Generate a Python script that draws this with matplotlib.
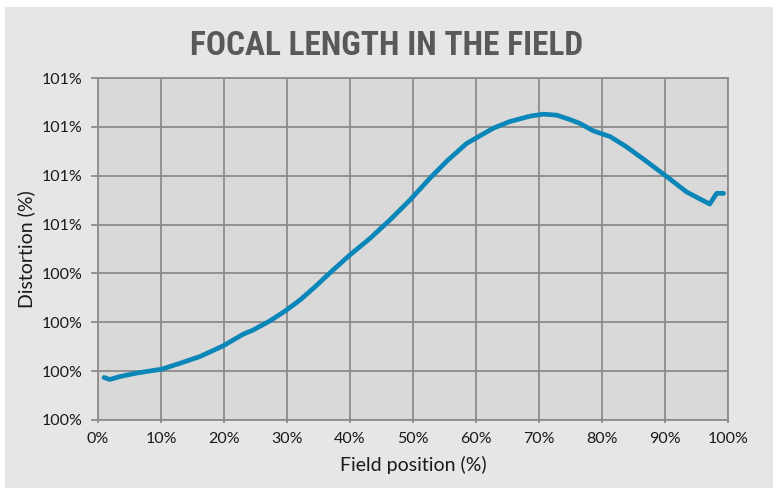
import numpy as np
import matplotlib.pyplot as plt
from matplotlib.patches import Rectangle
from matplotlib.ticker import FuncFormatter

# field position (%) and relative focal length (%)
field_pos = [0.95, 1.9, 3.5, 6.1, 10.1, 13.0, 16.2, 19.9, 23.1, 24.6, 27.3, 29.7,
             32.1, 34.4, 36.8, 40.0, 43.2, 46.3, 49.5, 52.7, 55.3, 58.5, 60.4,
             62.7, 65.4, 68.6, 70.7, 72.8, 74.9, 76.5, 78.6, 81.3, 83.9, 87.1,
             90.3, 93.4, 95.6, 97.1, 98.2, 99.3]
focal = [100.187, 100.183, 100.189, 100.196, 100.204, 100.216, 100.230, 100.252,
         100.276, 100.284, 100.303, 100.323, 100.346, 100.372, 100.401, 100.438,
         100.472, 100.509, 100.550, 100.595, 100.629, 100.666, 100.680, 100.697,
         100.711, 100.722, 100.726, 100.724, 100.715, 100.707, 100.692, 100.680,
         100.659, 100.629, 100.598, 100.567, 100.552, 100.542, 100.564, 100.564]

x_ticks = np.arange(0, 101, 10)
y_ticks = np.arange(100.1, 100.81, 0.1)

plt.rcParams['font.family'] = ['Lato', 'DejaVu Sans']

fig = plt.figure(figsize=(7.73, 4.88), dpi=100, facecolor='white')
fig.patches.append(Rectangle((5 / 773, 0), 1, 1 - 7 / 488, transform=fig.transFigure,
                             facecolor='#e6e6e6', edgecolor='none', zorder=-10))

ax = fig.add_axes([98 / 773, 1 - 420 / 488, 630 / 773, 342 / 488])
ax.set_facecolor('#d9d9d9')

ax.plot(field_pos, focal, color='#0a86b8', lw=3.4, solid_capstyle='round', zorder=3)

ax.set_xlim(0, 100)
ax.set_ylim(100.1, 100.8)
ax.set_xticks(x_ticks)
ax.set_yticks(y_ticks)
ax.xaxis.set_major_formatter(FuncFormatter(lambda v, p: f"{int(round(v))}%"))
ax.yaxis.set_major_formatter(FuncFormatter(lambda v, p: f"{int(np.floor(v + 0.5 + 1e-6))}%"))

ax.grid(True, color='#8c8c8c', lw=1.3)
ax.set_axisbelow(True)
for s in ax.spines.values():
    s.set_color('#8c8c8c')
    s.set_linewidth(1.3)
ax.tick_params(colors='#8c8c8c', labelcolor='#1a1a1a', labelsize=11.5, length=5, width=1.3)
ax.tick_params(axis='x', direction='inout', pad=6)
ax.tick_params(axis='y', pad=6)

ax.set_xlabel('Field position (%)', fontsize=14, color='#1a1a1a', labelpad=7)
ax.set_ylabel('Distortion (%)', fontsize=14, color='#1a1a1a', labelpad=5)

fig.text(0.5, 1 - 46 / 488, 'FOCAL LENGTH IN THE FIELD', ha='center', va='center',
         fontsize=24, fontweight='bold', color='#595959',
         family=['Roboto Condensed', 'Roboto', 'DejaVu Sans'])

fig.savefig('out.png', dpi=100, facecolor=fig.get_facecolor())
